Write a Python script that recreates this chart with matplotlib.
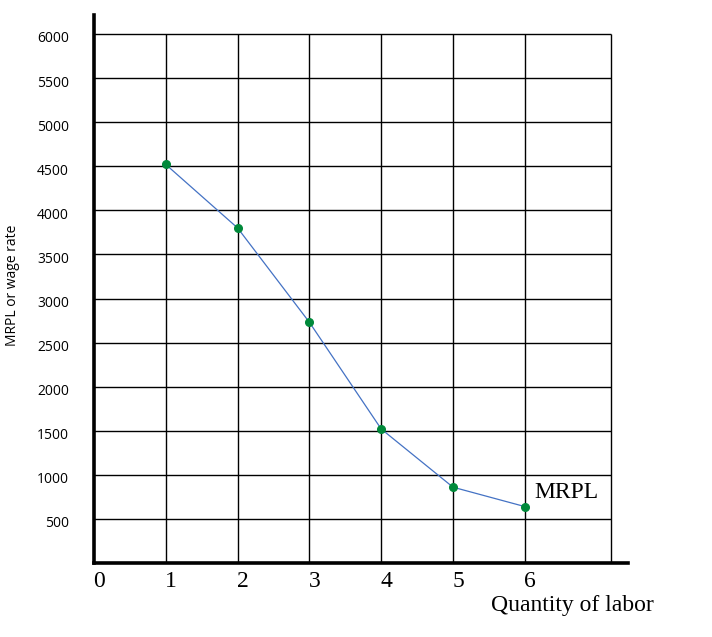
import matplotlib

matplotlib.use("Agg")

from matplotlib import pyplot as plt  # noqa: E402
from matplotlib.transforms import ScaledTranslation  # noqa: E402

# data
labor = [1, 2, 3, 4, 5, 6]
mrpl = [4520, 3800, 2730, 1520, 860, 640]
x_ticks = [0, 1, 2, 3, 4, 5, 6]
y_ticks = [500, 1000, 1500, 2000, 2500, 3000, 3500, 4000, 4500, 5000, 5500, 6000]
grid_x = [1, 2, 3, 4, 5, 6, 7.2]

SERIF = ["Liberation Serif", "DejaVu Serif"]
SANS = ["Open Sans", "DejaVu Sans"]

fig = plt.figure(figsize=(7.12, 6.37), dpi=100)
ax = fig.add_axes([94 / 712, 74 / 637, 534 / 712, 548 / 637])
ax.set_xlim(0, 534 / 71.8)
ax.set_ylim(0, 6000 * 548 / 529)

# grid drawn as a box of lines, not reaching the ends of the axes
ax.hlines(y_ticks, 0, grid_x[-1], color="black", linewidth=1.0, zorder=1)
ax.vlines(grid_x, 0, y_ticks[-1], color="black", linewidth=1.0, zorder=1)

ax.plot(labor, mrpl, color="#4472C4", linewidth=0.9, zorder=2)
ax.plot(labor, mrpl, linestyle="none", marker="o", markersize=5.5,
        color="#00893A", zorder=3)

ax.text(6.13, 805, "MRPL", family=SERIF, fontsize=17, ha="left", va="center")

for side in ("top", "right"):
    ax.spines[side].set_visible(False)
for side in ("left", "bottom"):
    ax.spines[side].set_linewidth(2.6)
    ax.spines[side].set_color("black")

ax.set_xticks(x_ticks)
ax.set_xticklabels([str(v) for v in x_ticks], family=SERIF, fontsize=17)
ax.set_yticks(y_ticks)
ax.set_yticklabels([str(v) for v in y_ticks], family=SANS, fontsize=10)
ax.tick_params(axis="x", length=0, pad=6)
ax.tick_params(axis="y", length=0, pad=18)

shift_x = ScaledTranslation(0.05, 0, fig.dpi_scale_trans)
for label in ax.get_xticklabels():
    label.set_transform(label.get_transform() + shift_x)
shift_y = ScaledTranslation(0, -0.03, fig.dpi_scale_trans)
for label in ax.get_yticklabels():
    label.set_transform(label.get_transform() + shift_y)

ax.set_ylabel("MRPL or wage rate", family=SANS, fontsize=10)
ax.yaxis.set_label_coords(-0.139, 0.507)

fig.text(572 / 712, 1 - 606 / 637, "Quantity of labor", family=SERIF,
         fontsize=17, ha="center", va="center")

fig.savefig("out.png", dpi=100)
